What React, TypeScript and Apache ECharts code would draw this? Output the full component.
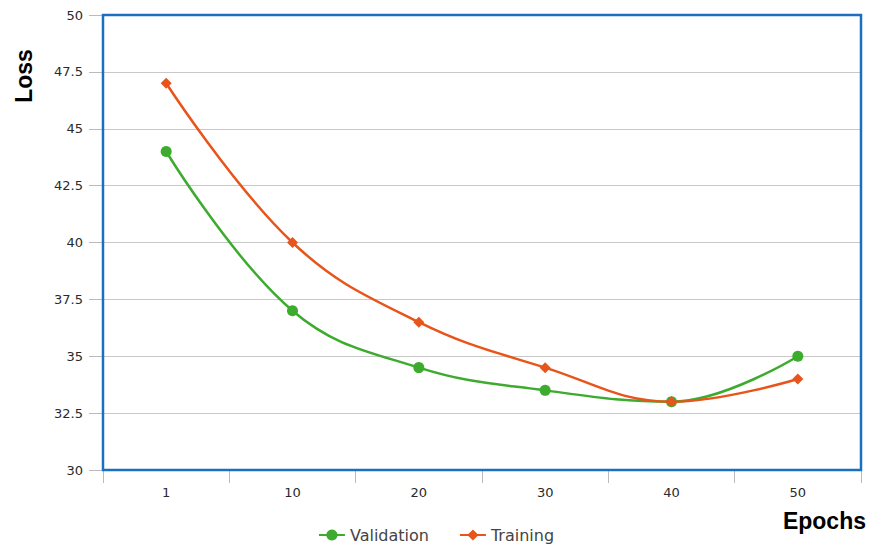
import React, { useEffect, useRef } from "react";
import * as echarts from "echarts";

const categories = ["1", "10", "20", "30", "40", "50"];
const validation = [44, 37, 34.5, 33.5, 33, 35];
const training = [47, 40, 36.5, 34.5, 33, 34];

export default function App() {
  const ref = useRef<HTMLDivElement>(null);
  useEffect(() => {
    if (!ref.current) return;
    const chart = echarts.init(ref.current, null, { renderer: "svg" });
    chart.setOption({
      animation: false,
      backgroundColor: "#ffffff",
      textStyle: { fontFamily: "DejaVu Sans, sans-serif" },
      grid: {
        left: 103,
        right: 11,
        top: 15,
        bottom: 79,
        show: true,
        borderColor: "#1a6fc0",
        borderWidth: 2.5,
        backgroundColor: "transparent",
        z: 3,
      },
      legend: {
        bottom: 1,
        left: "center",
        itemWidth: 26,
        itemHeight: 14,
        itemGap: 30,
        textStyle: { fontSize: 16, color: "#444", fontFamily: "DejaVu Sans, sans-serif" },
        data: ["Validation", "Training"],
      },
      xAxis: {
        type: "category",
        data: categories,
        boundaryGap: true,
        axisLine: { show: false },
        axisTick: { show: true, length: 13, lineStyle: { color: "#bbb" } },
        axisLabel: { color: "#2a2a2a", fontSize: 13, margin: 16, fontFamily: "DejaVu Sans, sans-serif" },
        splitLine: { show: false },
      },
      yAxis: {
        type: "value",
        min: 30,
        max: 50,
        interval: 2.5,
        axisLine: { show: false },
        axisTick: { show: true, length: 14, lineStyle: { color: "#bbb" } },
        axisLabel: { color: "#2a2a2a", fontSize: 13, margin: 20, fontFamily: "DejaVu Sans, sans-serif" },
        splitLine: { show: true, lineStyle: { color: "#c8c8c8", width: 1 } },
      },
      graphic: [
        {
          type: "text",
          x: 24,
          y: 76,
          rotation: Math.PI / 2,
          style: {
            text: "Loss",
            fontSize: 23,
            fontWeight: "bold",
            fill: "#000",
            fontFamily: "Liberation Sans, Arial, sans-serif",
            textAlign: "center",
            textVerticalAlign: "middle",
          },
        },
        {
          type: "text",
          x: 866,
          y: 521,
          style: {
            text: "Epochs",
            fontSize: 23,
            fontWeight: "bold",
            fill: "#000",
            fontFamily: "Liberation Sans, Arial, sans-serif",
            textAlign: "right",
            textVerticalAlign: "middle",
          },
        },
      ],
      series: [
        {
          name: "Validation",
          type: "line",
          data: validation,
          smooth: 0.4,
          symbol: "circle",
          symbolSize: 11,
          itemStyle: { color: "#3dab2e" },
          lineStyle: { color: "#3dab2e", width: 2.5 },
          z: 2,
        },
        {
          name: "Training",
          type: "line",
          data: training,
          smooth: 0.4,
          symbol: "diamond",
          symbolSize: 11,
          itemStyle: { color: "#e8541a" },
          lineStyle: { color: "#e8541a", width: 2.5 },
          z: 3,
        },
      ],
    });
    return () => chart.dispose();
  }, []);
  return <div ref={ref} style={{ width: 872, height: 549, position: "absolute", left: 0, top: 0 }} />;
}
